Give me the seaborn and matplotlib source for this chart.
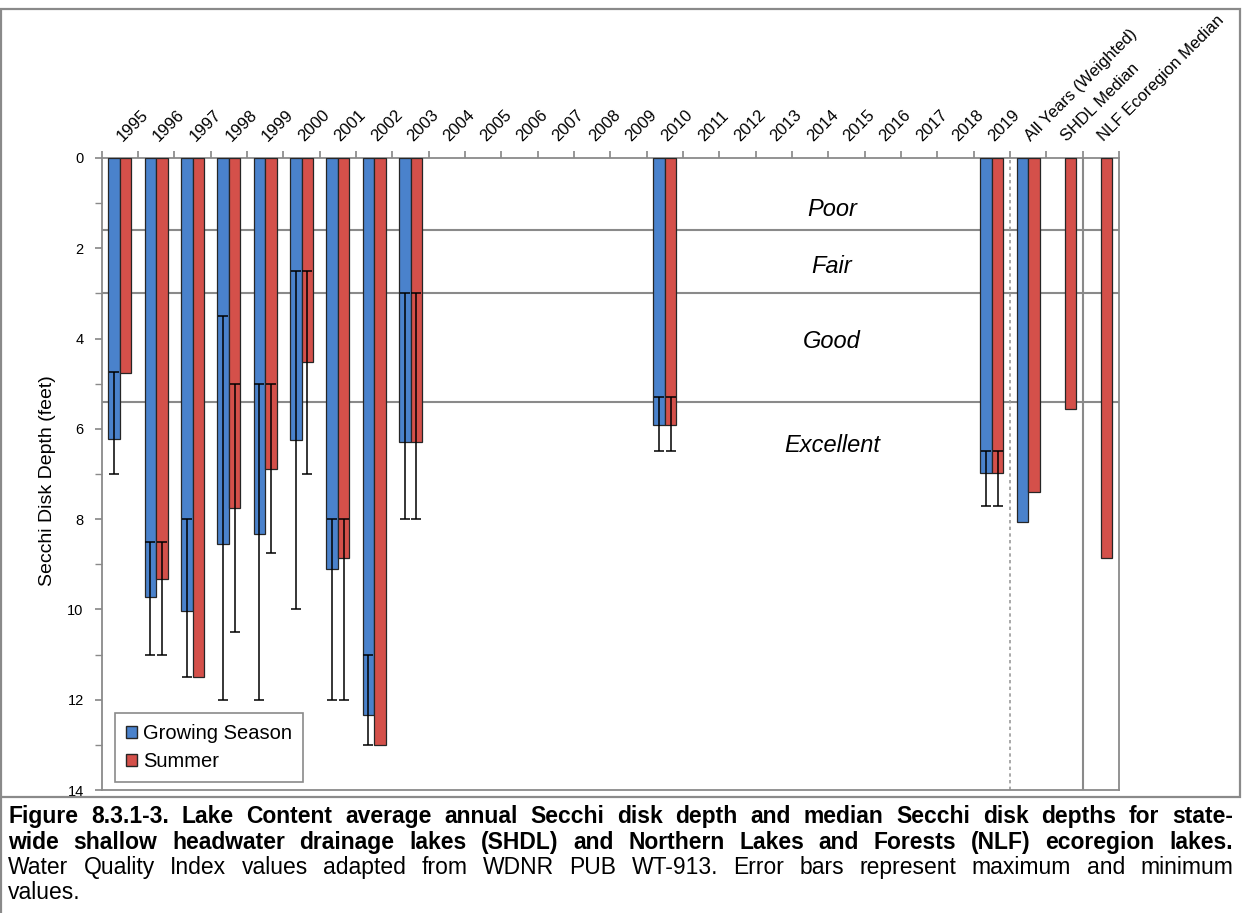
import numpy as np
import pandas as pd
import matplotlib
matplotlib.use("Agg")
import matplotlib.pyplot as plt
import seaborn as sns
from matplotlib import font_manager
from matplotlib.patches import Patch, Rectangle
from matplotlib.lines import Line2D

# ---------------------------------------------------------------- data
categories = [str(y) for y in range(1995, 2020)] + [
    "All Years (Weighted)", "SHDL Median", "NLF Ecoregion Median"]

growing_cats = ["1995", "1996", "1997", "1998", "1999", "2000", "2001",
                "2002", "2003", "2010", "2019", "All Years (Weighted)"]
growing_mean = [6.23, 9.72, 10.04, 8.54, 8.34, 6.25, 9.11, 12.34, 6.30,
                5.92, 6.97, 8.06]
growing_min = [4.75, 8.5, 8.0, 3.5, 5.0, 2.5, 8.0, 11.0, 3.0, 5.3, 6.5, None]
growing_max = [7.0, 11.0, 11.5, 12.0, 12.0, 10.0, 12.0, 13.0, 8.0, 6.5, 7.7, None]

summer_cats = ["1995", "1996", "1997", "1998", "1999", "2000", "2001",
               "2002", "2003", "2010", "2019", "All Years (Weighted)",
               "SHDL Median", "NLF Ecoregion Median"]
summer_mean = [4.76, 9.33, 11.5, 7.76, 6.88, 4.53, 8.87, 13.0, 6.30,
               5.92, 6.97, 7.39, 5.57, 8.85]
summer_min = [None, 8.5, None, 5.0, 5.0, 2.5, 8.0, None, 3.0, 5.3, 6.5,
              None, None, None]
summer_max = [None, 11.0, None, 10.5, 8.75, 7.0, 12.0, None, 8.0, 6.5, 7.7,
              None, None, None]

series_names = ["Growing Season", "Summer"]

quality_bounds = [1.6, 3.0, 5.4]
quality_labels = ["Poor", "Fair", "Good", "Excellent"]

caption_bold = [
    "Figure 8.3.1-3. Lake Content average annual Secchi disk depth and median Secchi disk depths for state-",
    "wide shallow headwater drainage lakes (SHDL) and Northern Lakes and Forests (NLF) ecoregion lakes.",
]
caption_plain = [
    "Water Quality Index values adapted from WDNR PUB WT-913.  Error bars represent maximum and minimum",
    "values.",
]

# ---------------------------------------------------------------- style
sns.set_theme(style="white")
plt.rcParams["font.family"] = ["Liberation Sans", "DejaVu Sans"]
plt.rcParams["text.color"] = "black"
plt.rcParams["axes.labelcolor"] = "black"
plt.rcParams["xtick.color"] = "black"
plt.rcParams["ytick.color"] = "black"

BLUE = "#4A82CC"
RED = "#D4504A"
GREY = "#8A8A8A"

W, H = 1243, 913
fig = plt.figure(figsize=(W / 100, H / 100), dpi=100)
ax = fig.add_axes([101.7 / W, 1 - 790 / H, (1119 - 101.7) / W, (790 - 158) / H])

df = pd.DataFrame({
    "Category": growing_cats + summer_cats,
    "Depth": growing_mean + summer_mean,
    "Season": [series_names[0]] * len(growing_cats) + [series_names[1]] * len(summer_cats),
})

sns.barplot(data=df, x="Category", y="Depth", hue="Season",
            order=categories, hue_order=series_names,
            palette=[BLUE, RED], width=0.634, errorbar=None,
            edgecolor="#262626", linewidth=0.9, legend=False,
            saturation=1, ax=ax, zorder=3)

# min / max whiskers for each bar
ranges = [
    dict(zip(growing_cats, zip(growing_mean, growing_min, growing_max))),
    dict(zip(summer_cats, zip(summer_mean, summer_min, summer_max))),
]
for h, container in enumerate(ax.containers[:2]):
    for patch in container:
        xc = patch.get_x() + patch.get_width() / 2
        cat = categories[int(round(xc))]
        if cat not in ranges[h]:
            continue
        mean, lo, hi = ranges[h][cat]
        if lo is None:
            continue
        ax.errorbar(xc, mean, yerr=[[mean - lo], [hi - mean]], fmt="none",
                    ecolor="black", elinewidth=1.1, capsize=3.4,
                    capthick=1.1, zorder=4)

# water-quality bands
for b in quality_bounds:
    ax.axhline(b, color=GREY, lw=1.5, zorder=1)
for lab, depth in zip(quality_labels, [1.15, 2.4, 4.07, 6.36]):
    ax.text(19.6, depth, lab, style="italic", fontsize=17,
            ha="center", va="center", zorder=2)

# separators between annual and summary columns
ax.axvline(24.5, color="#9a9a9a", lw=1.2, ls=(0, (2, 2)), zorder=1)
ax.axvline(26.5, color=GREY, lw=1.5, zorder=1)

# axes
ax.set_xlim(-0.5, len(categories) - 0.5)
ax.set_ylim(14, 0)
ax.set_yticks(range(0, 15, 2))
ax.set_yticks(range(1, 14, 2), minor=True)
ax.tick_params(axis="y", which="both", direction="out", length=5, left=True,
               color=GREY, labelcolor="black", labelsize=10.5, pad=8)
ax.xaxis.tick_top()
ax.set_xticks(np.arange(len(categories) + 1) - 0.5)
ax.set_xticklabels([])
ax.tick_params(axis="x", which="major", direction="out", length=5,
               top=True, bottom=False, color=GREY)
ax.set_xlabel("")
for i, c in enumerate(categories):
    ax.annotate(c, xy=(i, 1), xycoords=("data", "axes fraction"),
                xytext=(3.5, 10), textcoords="offset points",
                rotation=45, ha="left", va="bottom",
                rotation_mode="anchor", fontsize=12, annotation_clip=False)

ax.set_ylabel("Secchi Disk Depth (feet)", fontsize=14)
ax.yaxis.set_label_coords(-0.045, 0.49)

for s in ax.spines.values():
    s.set_color(GREY)
    s.set_linewidth(1.3)
ax.grid(False)

handles = [Patch(facecolor=BLUE, edgecolor="#262626"),
           Patch(facecolor=RED, edgecolor="#262626")]
leg = ax.legend(handles, series_names, loc="lower left",
                bbox_to_anchor=(0.013, 0.0127), borderaxespad=0,
                frameon=True, fancybox=False, framealpha=1,
                edgecolor=GREY, fontsize=14.5, handlelength=0.55,
                handleheight=0.55, handletextpad=0.3, labelspacing=0.45,
                borderpad=0.55)
leg.get_frame().set_linewidth(1.2)

# chart frame
fig.add_artist(Rectangle((1 / W, 1 - 797 / H), 1239 / W, 788 / H,
                         transform=fig.transFigure, fill=False,
                         edgecolor=GREY, lw=1.6))
fig.add_artist(Line2D([1 / W, 1 / W], [0, 1 - 797 / H],
                      transform=fig.transFigure, color=GREY, lw=1.6))

# caption, justified between fixed margins
names = {f.name for f in font_manager.fontManager.ttflist}
if "Liberation Sans Narrow" in names:
    cap_family, cap_size = "Liberation Sans Narrow", 19
else:
    cap_family, cap_size = "Liberation Sans", 16.5

renderer = fig.canvas.get_renderer()
X0, X1 = 8, 1233


def caption_line(text, y_px, weight, justify):
    words = text.split()
    arts = [fig.text(0, 1 - y_px / H, w, family=cap_family, size=cap_size,
                     weight=weight, color="black", ha="left", va="center")
            for w in words]
    widths = [a.get_window_extent(renderer).width for a in arts]
    if justify and len(words) > 1:
        gap = (X1 - X0 - sum(widths)) / (len(words) - 1)
    else:
        gap = arts[0].get_fontsize() * 0.28
    x = X0
    for a, w in zip(arts, widths):
        a.set_x(x / W)
        x += w + gap


caption_line(caption_bold[0], 816, "bold", True)
caption_line(caption_bold[1], 842, "bold", True)
caption_line(caption_plain[0], 867, "normal", True)
caption_line(caption_plain[1], 892, "normal", False)

fig.savefig("out.png", dpi=100, facecolor="white")
